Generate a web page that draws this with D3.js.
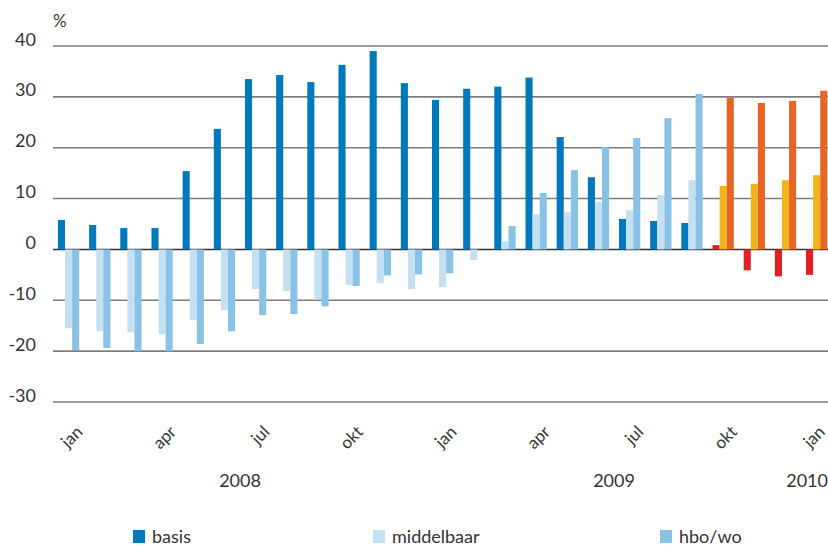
<!DOCTYPE html>
<html>
<head>
<meta charset="utf-8">
<script src="https://cdn.jsdelivr.net/npm/d3@7"></script>
<style>
  html, body { margin: 0; padding: 0; background: #fff; }
  svg { display: block; font-family: Lato, "Open Sans", sans-serif; }
</style>
</head>
<body>
<svg id="chart" width="828" height="545"></svg>
<script>
// Months from jan 2008 to jan 2010
const months = [
  "jan 2008","feb 2008","mrt 2008","apr 2008","mei 2008","jun 2008","jul 2008","aug 2008","sep 2008","okt 2008","nov 2008","dec 2008",
  "jan 2009","feb 2009","mrt 2009","apr 2009","mei 2009","jun 2009","jul 2009","aug 2009","sep 2009","okt 2009","nov 2009","dec 2009",
  "jan 2010"
];
const seriesNames = ["basis", "middelbaar", "hbo/wo"];

// Year-on-year change (%) per education level
const basis      = [5.8, 4.8, 4.2, 4.2, 15.4, 23.7, 33.5, 34.3, 32.9, 36.3, 39.0, 32.7, 29.4, 31.6, 32.0, 33.8, 22.1, 14.2, 6.0, 5.6, 5.2, 0.85, -4.1, -5.3, -5.0];
const middelbaar = [-15.5, -16.1, -16.3, -16.7, -13.9, -11.9, -7.8, -8.2, -9.8, -7.0, -6.6, -7.8, -7.4, -2.1, 1.6, 6.9, 7.3, 9.3, 7.7, 10.7, 13.6, 12.5, 12.9, 13.6, 14.6];
const hbowo      = [-19.8, -19.4, -20.0, -20.0, -18.6, -16.1, -12.9, -12.7, -11.2, -7.2, -5.1, -4.9, -4.7, 0, 4.6, 11.1, 15.6, 20.1, 21.9, 25.8, 30.6, 29.8, 28.8, 29.2, 31.2];

const yTicks = [40, 30, 20, 10, 0, -10, -20, -30];
const monthTicks = ["jan 2008","apr 2008","jul 2008","okt 2008","jan 2009","apr 2009","jul 2009","okt 2009","jan 2010"];
const years = [
  { label: "2008", from: "jan 2008", to: "dec 2008" },
  { label: "2009", from: "jan 2009", to: "dec 2009" },
  { label: "2010", from: "jan 2010", to: "jan 2010" }
];
// Latest months are shown in a separate palette
const latestFrom = "okt 2009";

const colorsMain   = { "basis": "#0079bc", "middelbaar": "#c4e0f3", "hbo/wo": "#8ac2e6" };
const colorsLatest = { "basis": "#e31f26", "middelbaar": "#f3b41b", "hbo/wo": "#e96525" };

const valuesBySeries = { "basis": basis, "middelbaar": middelbaar, "hbo/wo": hbowo };
const rows = months.map((m, i) => ({
  month: m,
  values: seriesNames.map(s => ({ series: s, value: valuesBySeries[s][i] }))
}));
const latestIndex = months.indexOf(latestFrom);

const svg = d3.select("#chart");
const textColor = "#333";
const width = 828;

const y = d3.scaleLinear().domain([-30, 40]).range([402, 46]);
const x0 = d3.scaleBand().domain(months).range([53, 53 + 25 * 31.17])
  .paddingInner(0.317).paddingOuter(0.1585);
const x1 = d3.scaleBand().domain(seriesNames).range([0, x0.bandwidth()]);

const gridLeft = 53, gridRight = width;

// Horizontal grid lines
svg.append("g").selectAll("line").data(yTicks).join("line")
  .attr("x1", gridLeft).attr("x2", gridRight)
  .attr("y1", d => y(d)).attr("y2", d => y(d))
  .attr("stroke", d => d === 0 ? "#333" : "#7d7d7d")
  .attr("stroke-width", 1.6);

// Y axis labels
svg.append("g").selectAll("text").data(yTicks).join("text")
  .attr("x", 36).attr("y", d => y(d) - 0.5)
  .attr("text-anchor", "end")
  .attr("font-size", 18).attr("fill", textColor)
  .text(d => d);

svg.append("text").attr("x", 53).attr("y", 27)
  .attr("font-size", 17).attr("fill", textColor).text("%");

// Bars
const groups = svg.append("g").selectAll("g").data(rows).join("g")
  .attr("transform", d => `translate(${x0(d.month)},0)`);

groups.selectAll("rect").data((d, i) => d.values.map(v => ({ ...v, latest: i >= latestIndex })))
  .join("rect")
  .attr("x", d => x1(d.series))
  .attr("width", x1.bandwidth())
  .attr("y", d => y(Math.max(0, d.value)))
  .attr("height", d => Math.abs(y(d.value) - y(0)))
  .attr("fill", d => (d.latest ? colorsLatest : colorsMain)[d.series]);

// Month tick labels, rotated
const xAxis = d3.axisBottom(x0).tickValues(monthTicks)
  .tickFormat(d => d.split(" ")[0]).tickSize(0);
const axisG = svg.append("g").call(xAxis);
axisG.select(".domain").remove();
axisG.selectAll(".tick text")
  .attr("font-family", "Lato, 'Open Sans', sans-serif")
  .attr("font-size", 17).attr("fill", textColor)
  .attr("text-anchor", "end")
  .attr("y", 0).attr("dy", 0)
  .attr("transform", function(d) {
    // keep the last label inside the drawing area
    const cx = x0(d) + x0.bandwidth() / 2;
    const dx = Math.min(15, width - 2 - cx);
    return `translate(${dx},433) rotate(-45)`;
  });

// Year labels
svg.append("g").selectAll("text").data(years).join("text")
  .attr("x", d => d.label === "2010" ? width : (x0(d.from) + x0(d.to) + x0.bandwidth()) / 2)
  .attr("y", 487)
  .attr("text-anchor", d => d.label === "2010" ? "end" : "middle")
  .attr("font-size", 18).attr("fill", textColor)
  .text(d => d.label);

// Legend
const legendX = [133, 373, 660];
const legend = svg.append("g").selectAll("g").data(seriesNames).join("g")
  .attr("transform", (d, i) => `translate(${legendX[i]},530)`);
legend.append("rect").attr("width", 12).attr("height", 13)
  .attr("fill", d => colorsMain[d]);
legend.append("text").attr("x", 19).attr("y", 12.5)
  .attr("font-size", 18).attr("fill", textColor).text(d => d);
</script>
</body>
</html>
